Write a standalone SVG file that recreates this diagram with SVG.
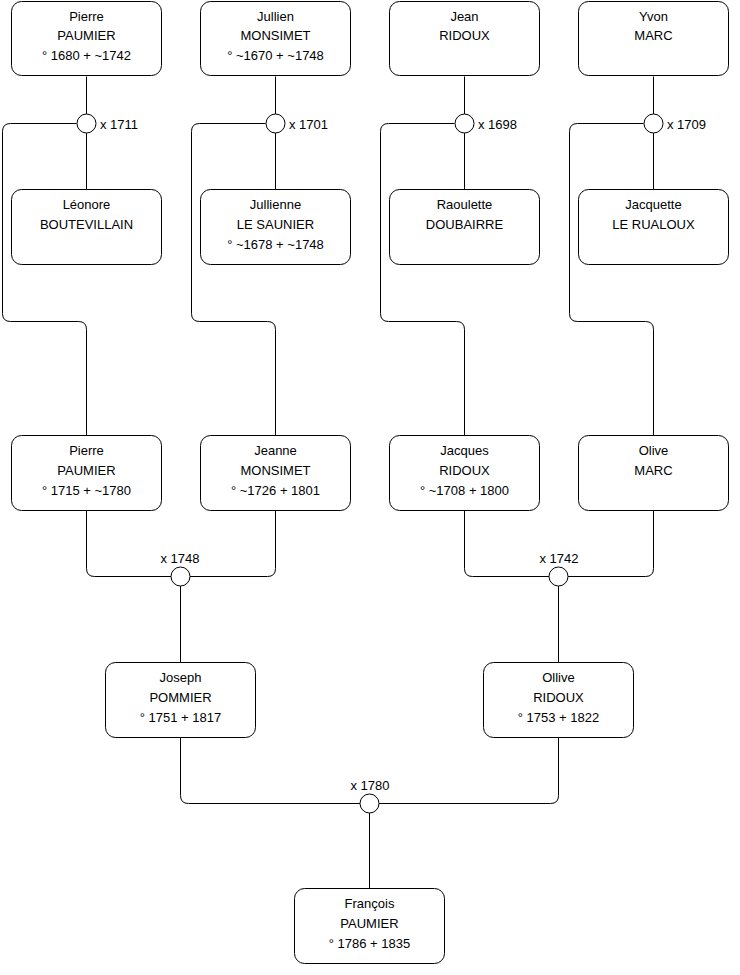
<svg xmlns="http://www.w3.org/2000/svg" width="740" height="975" viewBox="0 0 740 975">
<style>
.box{fill:#fff;stroke:#000;stroke-width:1}
.con{fill:none;stroke:#000;stroke-width:1}
.knot{fill:#fff;stroke:#000;stroke-width:1}
text{font-family:"Liberation Sans",Arial,sans-serif;font-size:13px;fill:#000}
.c{text-anchor:middle}
</style>
<rect width="740" height="975" fill="#fff"/>
<g id="connectors">
<path class="con" d="M86.5 76.5V114M86.5 133V189.5"/>
<path class="con" d="M76.5 123.5H10.5Q2.5 123.5 2.5 131.5V313.5Q2.5 321.5 10.5 321.5H78.5Q86.5 321.5 86.5 329.5V435.5"/>
<path class="con" d="M275.5 76.5V114M275.5 133V189.5"/>
<path class="con" d="M265.5 123.5H199.5Q191.5 123.5 191.5 131.5V313.5Q191.5 321.5 199.5 321.5H267.5Q275.5 321.5 275.5 329.5V435.5"/>
<path class="con" d="M464.5 76.5V114M464.5 133V189.5"/>
<path class="con" d="M454.5 123.5H388.5Q380.5 123.5 380.5 131.5V313.5Q380.5 321.5 388.5 321.5H456.5Q464.5 321.5 464.5 329.5V435.5"/>
<path class="con" d="M653.5 76.5V114M653.5 133V189.5"/>
<path class="con" d="M643.5 123.5H577.5Q569.5 123.5 569.5 131.5V313.5Q569.5 321.5 577.5 321.5H645.5Q653.5 321.5 653.5 329.5V435.5"/>
<path class="con" d="M86.5 510.5V568.5Q86.5 576.5 94.5 576.5H171M275.5 510.5V568.5Q275.5 576.5 267.5 576.5H190M180.5 586V662.5"/>
<path class="con" d="M464.5 510.5V568.5Q464.5 576.5 472.5 576.5H549M653.5 510.5V568.5Q653.5 576.5 645.5 576.5H568M558.5 586V662.5"/>
<path class="con" d="M180.5 737.5V795.5Q180.5 803.5 188.5 803.5H360M558.5 737.5V795.5Q558.5 803.5 550.5 803.5H379M369.5 813V888.5"/>
<circle class="knot" cx="86.5" cy="123.5" r="9.5"/>
<circle class="knot" cx="275.5" cy="123.5" r="9.5"/>
<circle class="knot" cx="464.5" cy="123.5" r="9.5"/>
<circle class="knot" cx="653.5" cy="123.5" r="9.5"/>
<circle class="knot" cx="180.5" cy="576.5" r="9.5"/>
<circle class="knot" cx="558.5" cy="576.5" r="9.5"/>
<circle class="knot" cx="369.5" cy="803.5" r="9.5"/>
<text x="100" y="128.5">x 1711</text>
<text x="289" y="128.5">x 1701</text>
<text x="478" y="128.5">x 1698</text>
<text x="667" y="128.5">x 1709</text>
<text class="c" x="180" y="562.5">x 1748</text>
<text class="c" x="559" y="562.5">x 1742</text>
<text class="c" x="370" y="789.5">x 1780</text>
</g>
<g id="n1"><rect class="box" x="11.5" y="1.5" width="150" height="74" rx="10"/><text class="c" x="86.5" y="20.5">Pierre</text><text class="c" x="86.5" y="40">PAUMIER</text><text class="c" x="86.5" y="59.5">° 1680 + ~1742</text></g>
<g id="n2"><rect class="box" x="200.5" y="1.5" width="150" height="74" rx="10"/><text class="c" x="275.5" y="20.5">Jullien</text><text class="c" x="275.5" y="40">MONSIMET</text><text class="c" x="275.5" y="59.5">° ~1670 + ~1748</text></g>
<g id="n3"><rect class="box" x="389.5" y="1.5" width="150" height="74" rx="10"/><text class="c" x="464.5" y="20.5">Jean</text><text class="c" x="464.5" y="40">RIDOUX</text></g>
<g id="n4"><rect class="box" x="578.5" y="1.5" width="150" height="74" rx="10"/><text class="c" x="653.5" y="20.5">Yvon</text><text class="c" x="653.5" y="40">MARC</text></g>
<g id="n5"><rect class="box" x="11.5" y="189.5" width="150" height="75" rx="10"/><text class="c" x="86.5" y="209">Léonore</text><text class="c" x="86.5" y="229">BOUTEVILLAIN</text></g>
<g id="n6"><rect class="box" x="200.5" y="189.5" width="150" height="75" rx="10"/><text class="c" x="275.5" y="209">Jullienne</text><text class="c" x="275.5" y="229">LE SAUNIER</text><text class="c" x="275.5" y="248.5">° ~1678 + ~1748</text></g>
<g id="n7"><rect class="box" x="389.5" y="189.5" width="150" height="75" rx="10"/><text class="c" x="464.5" y="209">Raoulette</text><text class="c" x="464.5" y="229">DOUBAIRRE</text></g>
<g id="n8"><rect class="box" x="578.5" y="189.5" width="150" height="75" rx="10"/><text class="c" x="653.5" y="209">Jacquette</text><text class="c" x="653.5" y="229">LE RUALOUX</text></g>
<g id="n9"><rect class="box" x="11.5" y="435.5" width="150" height="75" rx="10"/><text class="c" x="86.5" y="455">Pierre</text><text class="c" x="86.5" y="474.5">PAUMIER</text><text class="c" x="86.5" y="494.5">° 1715 + ~1780</text></g>
<g id="n10"><rect class="box" x="200.5" y="435.5" width="150" height="75" rx="10"/><text class="c" x="275.5" y="455">Jeanne</text><text class="c" x="275.5" y="474.5">MONSIMET</text><text class="c" x="275.5" y="494.5">° ~1726 + 1801</text></g>
<g id="n11"><rect class="box" x="389.5" y="435.5" width="150" height="75" rx="10"/><text class="c" x="464.5" y="455">Jacques</text><text class="c" x="464.5" y="474.5">RIDOUX</text><text class="c" x="464.5" y="494.5">° ~1708 + 1800</text></g>
<g id="n12"><rect class="box" x="578.5" y="435.5" width="150" height="75" rx="10"/><text class="c" x="653.5" y="455">Olive</text><text class="c" x="653.5" y="474.5">MARC</text></g>
<g id="n13"><rect class="box" x="105.5" y="662.5" width="150" height="75" rx="10"/><text class="c" x="180.5" y="682">Joseph</text><text class="c" x="180.5" y="701.5">POMMIER</text><text class="c" x="180.5" y="721.5">° 1751 + 1817</text></g>
<g id="n14"><rect class="box" x="483.5" y="662.5" width="150" height="75" rx="10"/><text class="c" x="558.5" y="682">Ollive</text><text class="c" x="558.5" y="701.5">RIDOUX</text><text class="c" x="558.5" y="721.5">° 1753 + 1822</text></g>
<g id="n15"><rect class="box" x="294.5" y="888.5" width="150" height="75" rx="10"/><text class="c" x="369.5" y="908">François</text><text class="c" x="369.5" y="927.5">PAUMIER</text><text class="c" x="369.5" y="947.5">° 1786 + 1835</text></g>
</svg>
